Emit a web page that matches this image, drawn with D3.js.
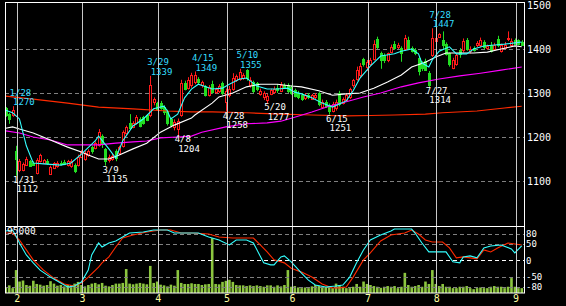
<!DOCTYPE html>
<html><head><meta charset="utf-8">
<script src="https://cdn.jsdelivr.net/npm/d3@7"></script>
<style>body{margin:0;background:#000;}svg{display:block}</style>
</head><body><svg id="c" width="566" height="306"></svg>
<script>
// ---------- DATA ----------
const monthLabels = ["2","3","4","5","6","7","8","9"];
const monthStartIdx = [4,23,45,65,84,106,126,149];
const priceTicks = [1500,1400,1300,1200,1100];
const oscTicks = [80,50,0,-50,-80];
const volumeMaxLabel = "95000";

const open = [1266,1252,1250,1168,1125,1126,1136,1146,1142,1118,1145,1142,1146,1117,1130,1134,1142,1143,1136,1133,1136,1136,1155,
1150,1158,1177,1175,1182,1203,1172,1148,1150,1168,1164,1180,1209,1232,1223,1232,1241,1245,1250,1250,1280,1277,
1278,1268,1258,1240,1222,1218,1250,1322,1312,1318,1326,1332,1318,1315,1296,1320,1302,1304,1322,1280,
1296,1310,1330,1332,1335,1352,1318,1325,1322,1298,1290,1284,1298,1302,1312,1305,1318,1318,1314,
1306,1300,1296,1288,1296,1286,1290,1300,1268,1280,1272,1260,1266,1300,1278,1285,1290,1318,1332,1340,1378,1360,
1366,1378,1423,1390,1386,1375,1393,1412,1404,1403,1400,1420,1402,1398,1380,1368,1372,1346,1386,1418,
1428,1420,1412,1390,1357,1366,1398,1398,1420,1395,1402,1408,1408,1416,1402,1410,1400,1422,1396,1402,1422,1410,1420,
1420,1416];
const high = [1268,1255,1270,1180,1150,1142,1155,1148,1145,1152,1162,1150,1150,1135,1143,1145,1146,1148,1148,1150,1140,1160,1170,
1168,1172,1180,1190,1218,1206,1175,1160,1162,1172,1180,1215,1226,1252,1236,1250,1245,1248,1252,1339,1290,1280,
1282,1272,1262,1244,1240,1242,1330,1328,1336,1346,1349,1336,1328,1318,1318,1328,1312,1320,1326,1310,
1316,1345,1342,1355,1345,1354,1336,1328,1325,1310,1304,1298,1310,1315,1320,1325,1322,1322,1318,
1310,1305,1300,1300,1300,1298,1300,1302,1285,1284,1276,1280,1285,1305,1290,1300,1312,1332,1360,1368,1380,1375,
1380,1420,1428,1394,1390,1392,1410,1418,1414,1406,1432,1428,1406,1402,1384,1372,1378,1350,1447,1432,
1436,1440,1415,1392,1380,1390,1402,1424,1425,1406,1406,1418,1426,1420,1410,1416,1414,1430,1412,1416,1440,1424,1424,
1422,1420];
const low = [1246,1230,1246,1112,1120,1122,1134,1132,1134,1115,1142,1140,1137,1115,1127,1130,1135,1136,1133,1130,1118,1133,1152,
1146,1155,1162,1172,1178,1175,1135,1142,1146,1145,1160,1176,1205,1218,1220,1228,1222,1228,1236,1245,1272,1260,
1262,1250,1226,1222,1215,1204,1246,1306,1308,1312,1320,1320,1312,1292,1292,1298,1298,1300,1295,1258,
1290,1305,1325,1328,1330,1328,1312,1300,1304,1294,1284,1277,1295,1298,1300,1302,1310,1300,1296,
1290,1286,1282,1284,1286,1284,1286,1270,1265,1266,1251,1256,1260,1270,1274,1282,1286,1312,1328,1335,1360,1350,
1362,1374,1400,1355,1368,1370,1390,1398,1400,1371,1396,1398,1392,1386,1340,1350,1350,1314,1382,1405,
1425,1400,1385,1360,1354,1362,1380,1392,1396,1390,1394,1404,1404,1400,1398,1392,1398,1404,1392,1400,1418,1406,1410,
1408,1408];
const close = [1250,1242,1262,1150,1146,1139,1150,1135,1137,1148,1158,1147,1140,1132,1141,1142,1138,1139,1145,1146,1122,1154,1166,
1164,1168,1168,1186,1212,1186,1146,1155,1156,1152,1177,1212,1223,1220,1232,1245,1225,1232,1239,1318,1286,1264,
1266,1256,1232,1228,1234,1236,1322,1310,1330,1340,1340,1324,1325,1296,1314,1302,1308,1316,1300,1304,
1310,1335,1338,1348,1342,1334,1330,1304,1308,1305,1300,1294,1306,1310,1306,1318,1314,1304,1300,
1294,1290,1286,1296,1290,1295,1296,1274,1280,1270,1258,1276,1280,1275,1286,1296,1308,1330,1352,1362,1365,1370,
1376,1412,1404,1375,1374,1390,1405,1402,1410,1390,1425,1402,1395,1390,1350,1356,1352,1318,1425,1426,
1434,1408,1388,1366,1375,1386,1388,1418,1400,1400,1398,1414,1420,1405,1406,1396,1410,1408,1408,1410,1426,1418,1412,
1412,1410];
const volume = [7600,11000,7000,33000,16500,18000,11500,10500,17700,13000,12000,10500,11500,17000,13500,10500,11500,9500,11500,11500,13500,16000,11500,
9500,11500,13500,14500,12500,14500,10500,9500,11500,13500,13500,14500,34500,13500,12500,13500,14500,13500,12500,39000,14500,16500,
12000,11000,9500,12000,10500,33000,14500,13000,13000,14000,13000,13000,11500,12500,13000,79000,13000,12500,16000,17500,
19000,16000,11500,11000,11000,10000,11000,10000,11000,10000,9000,11000,11000,9000,11000,9500,11500,33000,9000,
10000,8000,7000,8000,7000,9500,11500,10000,9000,8500,9000,7000,13500,11500,9000,7000,7000,9000,13000,9000,16500,13000,
11500,10000,9000,7500,9000,10000,9000,10000,7000,9000,29000,11500,9000,10000,11500,9000,16500,13000,33000,13000,
10000,13000,9000,9000,7000,7000,9000,9000,10000,7000,5500,7000,8000,7000,7000,9000,10000,9000,9000,7000,9000,21500,9000,
7000,7000];

// moving averages (trading-day index, price)
const maCyanIdx = [0,2,4,6,8,11,16,19,22,26,27,30,32,34,37,40,43,46,47,48,50,52,54,56,60,63,65,68,70,73,76,79,82,84,86,89,92,95,97,99,101,103,106,109,113,115,118,120,121,123,124,126,129,131,134,136,139,142,145,148,150];
const maCyanVal = [1261,1255,1241,1180,1141,1139,1136,1141,1161,1191,1202,1173,1152,1191,1225,1241,1264,1270,1259,1241,1252,1289,1309,1320,1309,1311,1320,1332,1334,1316,1309,1309,1311,1302,1298,1289,1277,1268,1275,1282,1305,1334,1361,1384,1389,1395,1400,1389,1368,1359,1375,1395,1405,1389,1389,1400,1407,1409,1411,1414,1416];
const maWhiteIdx = [0,2,4,8,13,18,22,24,27,30,33,37,41,45,49,54,55,60,62,66,70,74,79,83,86,91,95,99,103,107,111,115,118,122,125,128,132,136,140,144,148,150];
const maWhiteVal = [1220,1223,1218,1209,1193,1177,1166,1159,1150,1150,1159,1173,1186,1211,1227,1243,1250,1277,1291,1300,1314,1320,1320,1316,1314,1305,1295,1298,1300,1311,1325,1341,1359,1370,1382,1391,1391,1391,1393,1400,1407,1405];
const maMagentaIdx = [0,4,8,13,18,22,27,32,37,41,45,50,54,57,64,70,76,80,84,89,94,99,104,109,115,120,126,132,138,144,150];
const maMagentaVal = [1214,1209,1200,1193,1182,1182,1182,1186,1189,1191,1198,1200,1202,1211,1223,1230,1232,1236,1245,1257,1270,1280,1291,1300,1314,1323,1332,1339,1345,1352,1359];
const maRedIdx = [0,8,18,27,37,47,54,60,70,80,89,99,106,113,122,127,137,145,150];
const maRedVal = [1293,1286,1277,1268,1264,1259,1257,1257,1255,1252,1250,1248,1249,1250,1252,1255,1259,1266,1270];

// oscillator lines (index, value)
const oscCyanIdx = [0,2,3,4,6,8,10,13,16,18,20,22,24,25,27,28,30,32,34,36,40,43,47,49,53,56,59,62,65,67,70,72,75,77,78,80,81,83,86,88,90,93,96,98,100,102,104,106,109,112,113,118,119,121,123,126,128,130,132,133,135,137,139,141,144,147,148,150];
const oscCyanVal = [88,91,73,52,16,-8,-30,-51,-69,-81,-78,-66,-30,16,52,40,52,58,70,82,85,91,91,82,82,82,70,61,46,61,61,52,-8,-14,-14,10,13,-5,-39,-60,-75,-81,-78,-75,-51,-8,31,61,76,88,94,94,82,52,25,25,25,-5,-8,10,13,7,37,43,46,34,22,43];
const oscRedIdx = [0,2,4,6,8,11,14,17,20,22,24,27,28,30,32,34,37,41,45,48,51,54,59,62,66,72,74,76,78,81,83,86,89,92,95,97,99,101,104,106,109,112,116,118,120,122,124,127,129,131,133,135,137,139,141,143,146,148,150];
const oscRedVal = [82,82,61,31,1,-30,-54,-72,-78,-69,-51,-21,-8,10,40,67,76,85,91,91,82,82,79,70,67,67,46,25,1,-8,-24,-36,-51,-72,-84,-84,-81,-51,1,22,58,76,82,91,79,61,55,55,37,7,10,7,4,31,25,37,52,49,46];

// annotated highs / lows
const annDate = ["1/28","1/31","3/9","3/29","4/8","4/15","4/28","5/10","5/20","6/15","7/27","7/28"];
const annIdx  = [2,3,29,42,50,55,64,68,76,94,123,124];
const annKind = ["H","L","L","H","L","H","L","H","L","L","L","H"];

// ---------- DRAW ----------
const W=566,H=306, L=5, R=524, T=3, MB=226, B=293;
const svg=d3.select("#c");
svg.append("rect").attr("width",W).attr("height",H).attr("fill","#000");
const FONT="'DejaVu Sans Mono', monospace";

const x=d3.scaleLinear().domain([0,150]).range([5.7,521.7]);
const xb=d3.scaleLinear().domain([0.8,150.8]).range([5.7,521.7]); // month boundary
const yP=d3.scaleLinear().domain([1100,1500]).range([181,5]);
const yO=d3.scaleLinear().domain([-80,80]).range([286.7,233.7]);
const yV=d3.scaleLinear().domain([0,95000]).range([B,227]);

const defs=svg.append("defs");
defs.append("clipPath").attr("id","cm").append("rect").attr("x",L).attr("y",T).attr("width",R-L).attr("height",MB-T);
defs.append("clipPath").attr("id","cl").append("rect").attr("x",L).attr("y",MB).attr("width",R-L).attr("height",B-MB);

// horizontal dashed grids
const gMain=svg.append("g").attr("clip-path","url(#cm)");
gMain.selectAll("line.hg").data(priceTicks.filter(p=>yP(p)>T+4)).join("line")
 .attr("x1",L).attr("x2",R).attr("y1",d=>Math.round(yP(d))+0.5).attr("y2",d=>Math.round(yP(d))+0.5)
 .attr("stroke","#808080").attr("stroke-dasharray","4,3");

// volume bars
const gLow=svg.append("g").attr("clip-path","url(#cl)");
gLow.selectAll("rect.v").data(volume).join("rect")
 .attr("x",(d,i)=>x(i)-1.2).attr("width",2.6)
 .attr("y",d=>yV(d)).attr("height",d=>B-yV(d)).attr("fill","#8cc63f");
gLow.selectAll("line.og").data(oscTicks).join("line")
 .attr("x1",L).attr("x2",R).attr("y1",d=>Math.round(yO(d))+0.5).attr("y2",d=>Math.round(yO(d))+0.5)
 .attr("stroke",d=>d===0?"#ffffff":"#808080").attr("stroke-dasharray","4,3");

// month vertical lines
svg.selectAll("line.mv").data(monthStartIdx).join("line")
 .attr("x1",d=>Math.round(xb(d))+0.5).attr("x2",d=>Math.round(xb(d))+0.5)
 .attr("y1",T).attr("y2",B).attr("stroke","#c8c8c8");

// candles
const gC=gMain.append("g");
open.forEach((o,i)=>{
  const c=close[i], h=high[i], l=low[i];
  const cx=Math.round(x(i));
  const top=Math.round(yP(Math.max(o,c))), bot=Math.round(yP(Math.min(o,c)));
  if(c>=o){
    gC.append("line").attr("x1",cx+0.5).attr("x2",cx+0.5).attr("y1",yP(h)).attr("y2",top).attr("stroke","#ff1a1a");
    gC.append("line").attr("x1",cx+0.5).attr("x2",cx+0.5).attr("y1",bot).attr("y2",yP(l)).attr("stroke","#ff1a1a");
    gC.append("rect").attr("x",cx-0.5).attr("y",top+0.5).attr("width",2).attr("height",Math.max(1,bot-top))
      .attr("fill","#000").attr("stroke","#ff1a1a");
  } else {
    gC.append("line").attr("x1",cx+0.5).attr("x2",cx+0.5).attr("y1",yP(h)).attr("y2",yP(l)).attr("stroke","#22dd22");
    gC.append("rect").attr("x",cx-1).attr("y",top).attr("width",3).attr("height",Math.max(1,bot-top+1))
      .attr("fill","#22dd22");
  }
});

// moving averages
function drawLine(g,idx,val,sc,color){
  const pts=idx.map((d,k)=>[x(d),sc(val[k])]);
  g.append("path").attr("d",d3.line()(pts)).attr("fill","none").attr("stroke",color).attr("stroke-width",1.1);
}
drawLine(gMain,maRedIdx,maRedVal,yP,"#ff2a00");
drawLine(gMain,maMagentaIdx,maMagentaVal,yP,"#ff00ff");
drawLine(gMain,maWhiteIdx,maWhiteVal,yP,"#ffffff");
drawLine(gMain,maCyanIdx,maCyanVal,yP,"#33ffff");

// volume max label (under oscillator lines)
svg.append("text").attr("x",7).attr("y",231).attr("dy","0.35em").text(volumeMaxLabel)
 .attr("fill","#fff").attr("font-family",FONT).attr("font-size",9.5);

drawLine(gLow,oscRedIdx,oscRedVal,yO,"#ff2a00");
drawLine(gLow,oscCyanIdx,oscCyanVal,yO,"#33ffff");

// frame
svg.append("rect").attr("x",L+0.5).attr("y",T-0.5).attr("width",R-L).attr("height",B-T+0.5)
 .attr("fill","none").attr("stroke","#fff");
svg.append("line").attr("x1",L).attr("x2",R).attr("y1",MB+0.5).attr("y2",MB+0.5).attr("stroke","#fff");

// axes
function styleAxis(g,color,size){
  g.select(".domain").remove();
  g.selectAll("text").attr("fill",color).attr("font-family",FONT).attr("font-size",size);
}
svg.append("g").attr("transform",`translate(${R},0)`)
 .call(d3.axisRight(yP).tickValues(priceTicks).tickFormat(d=>String(d)).tickSize(0).tickPadding(3))
 .call(g=>styleAxis(g,"#fff",10));
svg.append("g").attr("transform",`translate(${R},0)`)
 .call(d3.axisRight(yO).tickValues(oscTicks).tickFormat(d=>String(d)).tickSize(0).tickPadding(2))
 .call(g=>styleAxis(g,"#fff",9));
svg.append("g").attr("transform",`translate(0,${B})`)
 .call(d3.axisBottom(xb).tickValues(monthStartIdx).tickFormat((d,i)=>monthLabels[i]).tickSize(0).tickPadding(2))
 .call(g=>styleAxis(g,"#ffffa0",10));

// annotations
const gA=svg.append("g").attr("font-family",FONT).attr("font-size",9);
annIdx.forEach((i,k)=>{
  const isH=annKind[k]==="H";
  const v=isH?high[i]:low[i];
  const yy=yP(v), cx=x(i);
  const col=isH?"#33ddff":"#ffffff";
  const y1=isH?yy-13.5:yy+4, y2=isH?yy-4:yy+13.5;
  gA.append("text").attr("x",cx-3).attr("y",y1).attr("dy","0.35em").attr("fill",col).text(annDate[k]);
  gA.append("text").attr("x",cx+0.5).attr("y",y2).attr("dy","0.35em").attr("fill",col).text(String(v));
});
</script></body></html>
